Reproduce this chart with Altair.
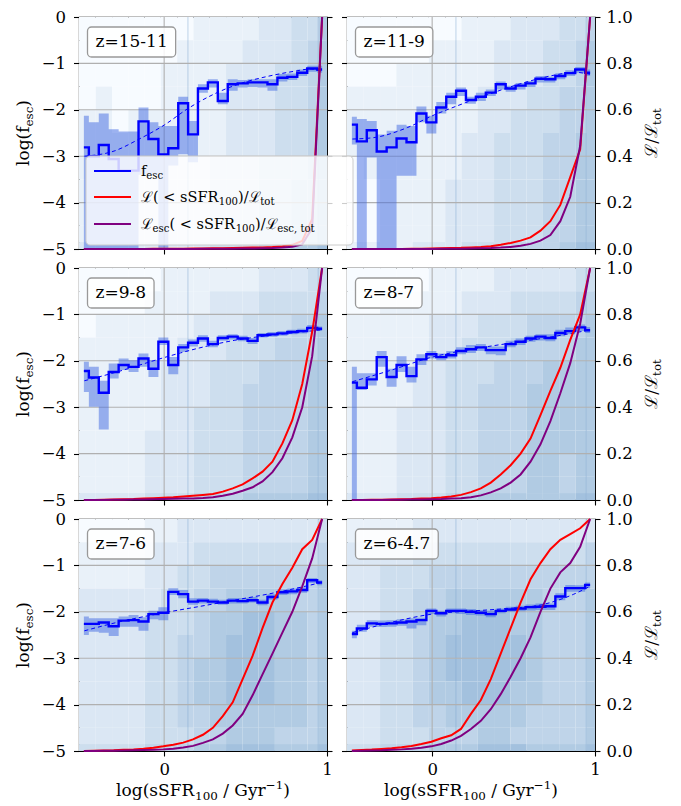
import altair as alt
import pandas as pd

FONT = "DejaVu Serif"
FS_TICK = 16.5
FS_TITLE = 17.0
FS_LEG = 14.5
W, H = 248, 232

X_DOMAIN = [-0.523, 1.0]
Y_DOMAIN = [-5, 0]
L_DOMAIN = [0, 1]

BIN_CENTERS = [-0.493, -0.432, -0.371, -0.310, -0.249, -0.188, -0.127, -0.066, -0.005,
               0.056, 0.117, 0.177, 0.238, 0.299, 0.360, 0.421, 0.482, 0.543, 0.604,
               0.665, 0.726, 0.787, 0.848, 0.909, 0.970]

PANEL_LABELS = ["z=15-11", "z=11-9", "z=9-8", "z=8-7", "z=7-6", "z=6-4.7"]

FESC = [
    [-2.81, -3.00, -2.76, -3.06, -3.31, -3.31, -2.25, -2.63, -2.96, -2.83, -1.86, -2.53, -1.54,
     -1.41, -1.81, -1.45, -1.43, -1.41, -1.41, -1.45, -1.31, -1.29, -1.20, -1.11, -1.13],
    [-2.32, -2.68, -2.44, -2.90, -2.81, -2.62, -2.70, -2.08, -2.27, -1.95, -1.72, -1.59, -1.79,
     -1.72, -1.63, -1.45, -1.54, -1.48, -1.43, -1.33, -1.34, -1.27, -1.21, -1.13, -1.20],
    [-2.22, -2.36, -2.69, -2.24, -2.09, -2.13, -1.95, -2.17, -1.59, -2.09, -1.71, -1.61, -1.52,
     -1.64, -1.51, -1.48, -1.52, -1.57, -1.45, -1.43, -1.41, -1.38, -1.36, -1.29, -1.31],
    [-2.47, -2.58, -2.40, -1.92, -2.35, -2.09, -2.33, -1.97, -1.86, -1.92, -1.88, -1.79, -1.75,
     -1.71, -1.77, -1.77, -1.64, -1.59, -1.52, -1.48, -1.51, -1.40, -1.36, -1.28, -1.34],
    [-2.26, -2.26, -2.23, -2.31, -2.19, -2.18, -2.21, -2.05, -2.02, -1.57, -1.62, -1.78, -1.76,
     -1.78, -1.80, -1.76, -1.77, -1.75, -1.80, -1.68, -1.58, -1.56, -1.53, -1.32, -1.37],
    [-2.48, -2.36, -2.25, -2.26, -2.25, -2.23, -2.21, -2.18, -1.98, -2.03, -1.98, -1.98, -2.00,
     -2.02, -2.05, -1.98, -1.95, -1.93, -1.90, -1.89, -1.88, -1.67, -1.49, -1.49, -1.42],
]

BAND_HI = [
    [-2.13, -2.27, -2.08, -2.42, -2.47, -2.47, -1.95, -2.27, -2.35, -2.35, -1.72, -2.24, -1.45,
     -1.34, -1.63, -1.34, -1.36, -1.34, -1.34, -1.34, -1.23, -1.22, -1.13, -1.05, -1.05],
    [-2.15, -2.20, -2.24, -2.53, -2.45, -2.32, -2.35, -1.93, -2.13, -1.83, -1.63, -1.52, -1.72,
     -1.63, -1.56, -1.39, -1.48, -1.42, -1.38, -1.27, -1.29, -1.21, -1.15, -1.08, -1.13],
    [-2.02, -2.13, -2.43, -2.06, -1.95, -1.99, -1.84, -1.99, -1.50, -1.92, -1.64, -1.54, -1.45,
     -1.57, -1.45, -1.43, -1.46, -1.51, -1.40, -1.38, -1.36, -1.33, -1.31, -1.23, -1.26],
    [-2.13, -2.27, -2.27, -1.79, -2.17, -1.90, -2.13, -1.86, -1.79, -1.84, -1.79, -1.71, -1.66,
     -1.64, -1.69, -1.69, -1.57, -1.52, -1.46, -1.43, -1.43, -1.33, -1.28, -1.22, -1.27],
    [-2.10, -2.14, -2.14, -2.14, -2.10, -2.07, -2.12, -1.98, -1.90, -1.49, -1.53, -1.71, -1.70,
     -1.72, -1.74, -1.70, -1.70, -1.68, -1.74, -1.62, -1.52, -1.50, -1.47, -1.27, -1.32],
    [-2.41, -2.28, -2.18, -2.19, -2.18, -2.16, -2.14, -2.13, -1.93, -1.98, -1.93, -1.93, -1.94,
     -1.96, -1.98, -1.93, -1.89, -1.87, -1.84, -1.82, -1.82, -1.60, -1.42, -1.43, -1.37],
]

BAND_LO = [
    [-5.0, -5.0, -5.0, -5.0, -5.0, -5.0, -3.40, -3.40, -5.0, -3.20, -2.96, -3.13, -1.63,
     -1.52, -1.88, -1.59, -1.52, -1.51, -1.52, -1.59, -1.39, -1.36, -1.27, -1.18, -1.20],
    [-2.75, -5.0, -3.03, -5.0, -5.0, -3.42, -3.42, -2.27, -2.51, -2.08, -1.88, -1.70, -1.87,
     -1.81, -1.70, -1.56, -1.61, -1.56, -1.51, -1.41, -1.41, -1.34, -1.27, -1.20, -1.27],
    [-2.67, -2.99, -3.48, -2.38, -2.20, -2.24, -2.13, -2.35, -1.66, -2.29, -1.81, -1.69, -1.59,
     -1.71, -1.57, -1.54, -1.58, -1.64, -1.50, -1.48, -1.46, -1.43, -1.41, -1.34, -1.36],
    [-5.0, -2.63, -2.53, -2.13, -2.56, -2.24, -2.47, -2.09, -1.95, -1.99, -1.95, -1.86, -1.83,
     -1.79, -1.86, -1.88, -1.71, -1.66, -1.59, -1.56, -1.58, -1.47, -1.43, -1.36, -1.40],
    [-2.50, -2.43, -2.45, -2.52, -2.32, -2.32, -2.41, -2.16, -2.18, -1.64, -1.71, -1.85, -1.82,
     -1.83, -1.85, -1.82, -1.82, -1.80, -1.86, -1.74, -1.64, -1.62, -1.59, -1.38, -1.43],
    [-2.57, -2.43, -2.32, -2.33, -2.32, -2.30, -2.36, -2.29, -2.05, -2.10, -2.03, -2.05, -2.07,
     -2.08, -2.12, -2.03, -2.00, -1.99, -1.97, -1.96, -1.96, -1.75, -1.57, -1.57, -1.49],
]

FIT_X = [
    [-0.49, -0.30, -0.164, 0.0, 0.143, 0.307, 0.471, 0.635, 0.799, 0.90, 0.975],
    [-0.49, -0.36, -0.15, 0.0, 0.15, 0.36, 0.56, 0.77, 0.87, 0.975],
    [-0.49, -0.30, 0.0, 0.10, 0.22, 0.43, 0.63, 0.84, 0.975],
    [-0.49, -0.25, 0.0, 0.26, 0.46, 0.67, 0.87, 0.975],
    [-0.49, -0.28, 0.0, 0.225, 0.43, 0.635, 0.84, 0.975],
    [-0.49, -0.255, 0.0, 0.255, 0.46, 0.67, 0.87, 0.975],
]
FIT_Y = [
    [-3.00, -2.88, -2.65, -2.33, -1.98, -1.66, -1.43, -1.28, -1.17, -1.12, -1.19],
    [-2.63, -2.60, -2.38, -2.13, -1.92, -1.65, -1.42, -1.24, -1.19, -1.24],
    [-2.43, -2.25, -1.93, -1.83, -1.72, -1.56, -1.46, -1.38, -1.33],
    [-2.45, -2.20, -1.92, -1.74, -1.63, -1.52, -1.40, -1.33],
    [-2.41, -2.22, -2.02, -1.88, -1.75, -1.62, -1.47, -1.36],
    [-2.45, -2.23, -2.05, -1.98, -1.93, -1.85, -1.62, -1.44],
]

L_FRAC = [
    [0, 0, 0, 0, 0, 0, 0.0005, 0.0008, 0.001, 0.0012, 0.0015, 0.002, 0.0025, 0.003, 0.0035,
     0.004, 0.005, 0.006, 0.007, 0.009, 0.012, 0.018, 0.035, 0.13, 1.0],
    [0, 0, 0, 0, 0, 0, 0.001, 0.001, 0.002, 0.003, 0.004, 0.005, 0.007, 0.009, 0.012, 0.018,
     0.026, 0.036, 0.05, 0.079, 0.12, 0.19, 0.31, 0.43, 1.0],
    [0, 0.0005, 0.001, 0.002, 0.003, 0.004, 0.006, 0.008, 0.01, 0.012, 0.015, 0.018, 0.022,
     0.026, 0.036, 0.05, 0.067, 0.093, 0.122, 0.165, 0.244, 0.344, 0.50, 0.725, 1.0],
    [0, 0, 0.001, 0.001, 0.002, 0.003, 0.004, 0.006, 0.008, 0.011, 0.015, 0.022, 0.034, 0.05,
     0.075, 0.11, 0.15, 0.20, 0.265, 0.366, 0.47, 0.57, 0.69, 0.80, 1.0],
    [0, 0.001, 0.002, 0.003, 0.005, 0.007, 0.01, 0.014, 0.02, 0.027, 0.036, 0.05, 0.07, 0.10,
     0.15, 0.21, 0.31, 0.41, 0.53, 0.64, 0.72, 0.79, 0.87, 0.91, 1.0],
    [0.002, 0.004, 0.006, 0.009, 0.012, 0.016, 0.022, 0.03, 0.04, 0.055, 0.068, 0.095, 0.16,
     0.22, 0.31, 0.42, 0.53, 0.64, 0.74, 0.81, 0.87, 0.91, 0.935, 0.96, 1.0],
]
LESC_FRAC = [
    [0, 0, 0, 0, 0, 0, 0, 0, 0, 0, 0.0003, 0.0005, 0.0008, 0.001, 0.0012, 0.0015, 0.002,
     0.0025, 0.003, 0.004, 0.006, 0.01, 0.02, 0.09, 1.0],
    [0, 0, 0, 0, 0, 0, 0, 0, 0.0005, 0.001, 0.001, 0.0015, 0.002, 0.003, 0.004, 0.006, 0.009,
     0.014, 0.022, 0.036, 0.06, 0.12, 0.225, 0.445, 1.0],
    [0, 0, 0.0005, 0.001, 0.001, 0.002, 0.002, 0.003, 0.004, 0.005, 0.006, 0.007, 0.009, 0.012,
     0.018, 0.027, 0.04, 0.055, 0.08, 0.12, 0.18, 0.27, 0.40, 0.62, 1.0],
    [0, 0, 0, 0.0005, 0.001, 0.001, 0.002, 0.002, 0.003, 0.004, 0.006, 0.008, 0.012, 0.02,
     0.033, 0.05, 0.075, 0.11, 0.165, 0.24, 0.34, 0.46, 0.59, 0.76, 1.0],
    [0, 0, 0.001, 0.001, 0.002, 0.003, 0.004, 0.005, 0.007, 0.01, 0.015, 0.022, 0.035, 0.05,
     0.075, 0.11, 0.16, 0.24, 0.33, 0.42, 0.51, 0.60, 0.71, 0.83, 1.0],
    [0.0005, 0.001, 0.002, 0.003, 0.005, 0.007, 0.01, 0.014, 0.02, 0.03, 0.045, 0.065, 0.095,
     0.13, 0.18, 0.245, 0.32, 0.40, 0.49, 0.60, 0.70, 0.77, 0.81, 0.88, 1.0],
]

# background 2D histogram: intensity level (0-6) per cell, rows from top (log fesc = 0) down
HEAT_X_EDGES = [-0.523, -0.42, -0.32, -0.22, -0.12, -0.02, 0.08, 0.18, 0.28, 0.38, 0.48,
                0.58, 0.68, 0.78, 0.88, 0.95, 1.0]
HEAT_Y_EDGES = [0, -0.5, -1, -1.5, -2, -2.5, -3, -3.5, -4, -4.5, -4.85, -5]
HEAT = [
    ["0000000111122335", "0000001111222345", "0000011112223345", "0100011112223345",
     "1101111112223345", "1111111112223345", "1111111122233345", "1111111122233445",
     "1111111122233445", "1111111122233445", "2222222233344556"],
    ["0000000111222334", "0000011112223345", "0001111112223345", "1111111122233445",
     "1111111122333445", "1111111223334455", "0111111223334455", "0011112223334455",
     "0011112223334455", "0011112223334455", "1111222333444566"],
    ["0000011111122233", "0000111122233334", "0111111222333445", "1111112223334445",
     "1111122233344455", "1111122233444455", "1111122333444455", "1111222333444455",
     "1111222333444455", "1111222333444455", "2222333444555566"],
    ["0000011112222233", "0011111222333344", "1111122233344445", "1111122333444455",
     "1111223334445555", "1111223344455555", "1112223344455555", "1112223344455555",
     "1112223344455455", "1112223344455455", "2223334455555566"],
    ["0000112222222223", "1111222333333334", "1111223344444445", "2222233445555445",
     "2222333455665545", "2222334456665545", "2222334556665545", "2222334556665545",
     "2222334455555545", "2222333445554445", "3333444556665556"],
    ["1111222222222222", "2222333333333334", "2233344444444444", "2233445555554445",
     "2233455666554445", "2233456666654445", "2233456666654445", "2233455666554445",
     "2233445555544445", "2233344455444445", "3344455566655556"],
]
HIST_EDGE_LINES = [0.146, 0.946]

GRID_Y = [-4, -3, -2, -1]
GRID_X = [0]
Y_TICKS = [-5, -4, -3, -2, -1, 0]
L_TICKS = [0, 0.2, 0.4, 0.6, 0.8, 1.0]
X_TICKS = [0, 1]

# approximate DejaVu Serif advance widths (em)
CW = {'l': .320, 'o': .602, 'g': .640, '(': .390, ')': .390, 'f': .370, 'e': .592,
      's': .514, 'c': .561, 't': .401, ' ': .318, ',': .318, '<': .838, 'S': .686,
      'F': .726, 'R': .770, '/': .337, 'ℒ': .80, 'z': .525, 'G': .775, 'y': .592,
      'r': .479, '−': .838, '=': .838, '-': .338, '.': .318}


def tw(s, size):
    return sum(CW.get(ch, 0.636) for ch in s) * size


DUMMY = pd.DataFrame({"a": [0]})
XS = alt.Scale(domain=X_DOMAIN, nice=False, zero=False)
YS = alt.Scale(domain=Y_DOMAIN, nice=False, zero=False)
LS = alt.Scale(domain=L_DOMAIN, nice=False, zero=False)
HEAT_SCALE = alt.Scale(domain=[0, 6], range=["#f7fbff", "#a3c1de"])

C_BLUE = "#0000ff"
C_RED = "#ff0000"
C_PURPLE = "#800080"


def txt(text, x, y, size, align="left", baseline="alphabetic", angle=0, dx=0, dy=0):
    kw = dict(text=text, font=FONT, fontSize=size, align=align, baseline=baseline,
              color="black", dx=dx, dy=dy)
    if angle:
        kw["angle"] = angle
    return alt.Chart(DUMMY).mark_text(**kw).encode(x=alt.value(x), y=alt.value(y))


def compose(pieces, x0, y0, size, sub_shift, rotated=False, centered=False):
    """pieces: (text, kind) with kind n=normal, s=subscript, p=superscript"""
    small = size * 0.7
    total = sum(tw(t, size if k == "n" else small) for t, k in pieces)
    off = -total / 2 if (rotated or centered) else 0
    out = []
    for t, k in pieces:
        s = size if k == "n" else small
        sh = {"n": 0, "s": sub_shift, "p": -size * 0.4}[k]
        lead = len(t) - len(t.lstrip(" "))
        pos = off + tw(" " * lead, s)
        body = t.strip(" ")
        if rotated:
            out.append(txt(body, x0, y0, s, angle=270, dx=pos, dy=sh))
        else:
            out.append(txt(body, x0 + pos, y0 + sh, s))
        off += tw(t, s)
    return out


def panel(i):
    row, col = divmod(i, 2)
    xa = alt.Axis(values=X_TICKS, format="d", labels=(row == 2), title=None,
                  tickSize=5, labelPadding=5)
    ya = alt.Axis(orient="left", values=Y_TICKS, format="d", labels=(col == 0), title=None,
                  tickSize=5.5, labelPadding=8)
    la = alt.Axis(orient="right", values=L_TICKS, format=".1f", labels=(col == 1),
                  title=None, tickSize=5, labelPadding=6)

    def X(f):
        return alt.X(f, type="quantitative", scale=XS, axis=xa)

    def Y(f):
        return alt.Y(f, type="quantitative", scale=YS, axis=ya)

    def L(f):
        return alt.Y(f, type="quantitative", scale=LS, axis=la)

    cells = []
    for r, rowstr in enumerate(HEAT[i]):
        for c, ch in enumerate(rowstr):
            cells.append({"x1": HEAT_X_EDGES[c], "x2": HEAT_X_EDGES[c + 1],
                          "y1": HEAT_Y_EDGES[r], "y2": HEAT_Y_EDGES[r + 1],
                          "level": int(ch)})
    heat = alt.Chart(pd.DataFrame(cells)).mark_rect().encode(
        x=X("x1"), x2="x2", y=Y("y1"), y2="y2",
        color=alt.Color("level:Q", scale=HEAT_SCALE, legend=None))
    hist_lines = alt.Chart(pd.DataFrame({"g": HIST_EDGE_LINES})).mark_rule(
        color="#7fa7d0", strokeWidth=0.8, opacity=0.6).encode(x=X("g"))

    grid_h = alt.Chart(pd.DataFrame({"g": GRID_Y})).mark_rule(
        color="#b0b0b0", strokeWidth=1.1).encode(y=Y("g"))
    grid_v = alt.Chart(pd.DataFrame({"g": GRID_X})).mark_rule(
        color="#b0b0b0", strokeWidth=1.1).encode(x=X("g"))

    df = pd.DataFrame({"x": BIN_CENTERS, "f": FESC[i], "hi": BAND_HI[i], "lo": BAND_LO[i],
                       "L": L_FRAC[i], "Le": LESC_FRAC[i]})
    band = alt.Chart(df).mark_area(interpolate="step", color="#4169e1", opacity=0.5).encode(
        x=X("x"), y=Y("lo"), y2="hi")
    step = alt.Chart(df).mark_line(interpolate="step", color=C_BLUE, strokeWidth=2.4).encode(
        x=X("x"), y=Y("f"))
    fit = alt.Chart(pd.DataFrame({"x": FIT_X[i], "y": FIT_Y[i]})).mark_line(
        interpolate="monotone", color=C_BLUE, strokeWidth=1, strokeDash=[4, 3]).encode(
        x=X("x"), y=Y("y"))

    label = PANEL_LABELS[i]
    bw = tw(label, FS_TITLE) + 16
    tbox = alt.Chart(DUMMY).mark_rect(
        fill="white", fillOpacity=0.85, stroke="#999999", strokeWidth=1.3,
        cornerRadius=4).encode(x=alt.value(8.5), x2=alt.value(8.5 + bw),
                               y=alt.value(10), y2=alt.value(40))
    ttext = txt(label, 16.5, 25, FS_TITLE, baseline="middle")

    fesc_layers = [heat, hist_lines, grid_h, grid_v, band, step, fit, tbox, ttext]
    if col == 0:
        fesc_layers += compose([("log(f", "n"), ("esc", "s"), (")", "n")],
                               -50, H / 2, FS_TITLE, 4, rotated=True)
    if row == 2:
        fesc_layers += compose([("log(sSFR", "n"), ("100", "s"), (" / Gyr", "n"),
                                ("−1", "p"), (")", "n")],
                               W / 2, H + 45, FS_TITLE, 4, centered=True)

    red = alt.Chart(df).mark_line(color=C_RED, strokeWidth=2).encode(x=X("x"), y=L("L"))
    pur = alt.Chart(df).mark_line(color=C_PURPLE, strokeWidth=2).encode(x=X("x"), y=L("Le"))
    l_layers = [red, pur]
    if col == 1:
        l_layers += compose([("ℒ/ℒ", "n"), ("tot", "s")], W + 62, H / 2, FS_TITLE, 4,
                            rotated=True)

    layers = [alt.layer(*fesc_layers), alt.layer(*l_layers)]

    if i == 1:
        # legend, drawn from the top-right panel so that it overlays the top-left panel
        lx0 = -261
        leg = [alt.Chart(DUMMY).mark_rect(
            fill="white", fillOpacity=0.8, stroke="#cccccc", strokeWidth=1,
            cornerRadius=4).encode(x=alt.value(lx0), x2=alt.value(6),
                                   y=alt.value(139), y2=alt.value(228))]
        entries = [
            (C_BLUE, 154, [("f", "n"), ("esc", "s")]),
            (C_RED, 180, [("ℒ( < sSFR", "n"), ("100", "s"), (")/ℒ", "n"), ("tot", "s")]),
            (C_PURPLE, 207, [("ℒ", "n"), ("esc", "s"), ("( < sSFR", "n"), ("100", "s"),
                             (")/ℒ", "n"), ("esc, tot", "s")]),
        ]
        for colr, yy, pieces in entries:
            leg.append(alt.Chart(DUMMY).mark_rule(color=colr, strokeWidth=2).encode(
                x=alt.value(lx0 + 8), x2=alt.value(lx0 + 45), y=alt.value(yy)))
            leg += compose(pieces, lx0 + 55, yy + 5, FS_LEG, 3)
        layers.append(alt.layer(*leg))

    return alt.layer(*layers).resolve_scale(y="independent").properties(width=W, height=H)


chart = alt.concat(*[panel(i) for i in range(6)], columns=2,
                   spacing={"row": 19, "column": 20}, bounds="flush").properties(
    padding={"left": 6, "top": 0, "right": 5, "bottom": 0}
).configure_view(
    stroke="black", strokeWidth=1.1
).configure_axis(
    labelFont=FONT, labelFontSize=FS_TICK, labelColor="black", tickColor="black",
    tickWidth=1.1, domain=False, grid=False, labelFlush=False, labelOverlap=False
)

chart.save("out.html", embed_options={"renderer": "svg", "actions": False})
